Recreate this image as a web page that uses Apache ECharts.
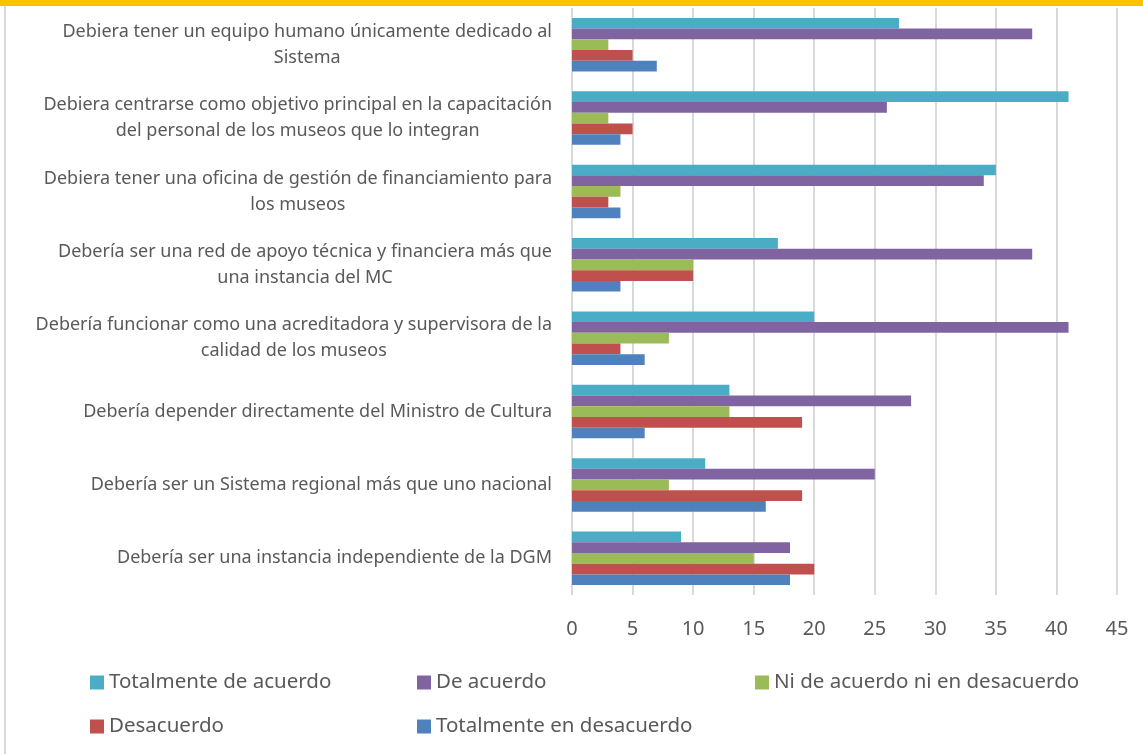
<!DOCTYPE html>
<html>
<head>
<meta charset="utf-8">
<script src="https://cdn.jsdelivr.net/npm/echarts@6/dist/echarts.min.js"></script>
<style>
  html, body { margin: 0; padding: 0; background: #fff; }
  #chart { width: 1143px; height: 754px; }
</style>
</head>
<body>
<div id="chart"></div>
<script>
// categories, top to bottom
var categories = [
  'Debiera tener un equipo humano únicamente dedicado al\nSistema',
  'Debiera centrarse como objetivo principal en la capacitación\ndel personal de los museos que lo integran',
  'Debiera tener una oficina de gestión de financiamiento para\nlos museos',
  'Debería ser una red de apoyo técnica y financiera más que\nuna instancia del MC',
  'Debería funcionar como una acreditadora y supervisora de la\ncalidad de los museos',
  'Debería depender directamente del Ministro de Cultura',
  'Debería ser un Sistema regional más que uno nacional',
  'Debería ser una instancia independiente de la DGM'
];

var seriesNames = ['Totalmente de acuerdo', 'De acuerdo', 'Ni de acuerdo ni en desacuerdo', 'Desacuerdo', 'Totalmente en desacuerdo'];
var seriesColors = ['#4BACC6', '#8064A2', '#9BBB59', '#C0504D', '#4F81BD'];

var totalmenteAcuerdo   = [27, 41, 35, 17, 20, 13, 11, 9];
var deAcuerdo           = [38, 26, 34, 38, 41, 28, 25, 18];
var niAcuerdo           = [3, 3, 4, 10, 8, 13, 8, 15];
var desacuerdo          = [5, 5, 3, 10, 4, 19, 19, 20];
var totalmenteDesacuerdo = [7, 4, 4, 4, 6, 6, 16, 18];

var seriesValues = [totalmenteAcuerdo, deAcuerdo, niAcuerdo, desacuerdo, totalmenteDesacuerdo];

var xTicks = { min: 0, max: 45, interval: 5 };

var chart = echarts.init(document.getElementById('chart'));

var font = 'Noto Sans';
var textColor = '#595959';

// legend placed item by item so the columns line up
var legendPos = [
  { left: 85, top: 667 },
  { left: 412, top: 667 },
  { left: 750, top: 667 },
  { left: 85, top: 711 },
  { left: 412, top: 711 }
];

var legends = seriesNames.map(function (name, i) {
  return {
    data: [name],
    left: legendPos[i].left,
    top: legendPos[i].top,
    icon: 'rect',
    itemWidth: 14,
    itemHeight: 14,
    itemGap: 4,
    textStyle: { fontFamily: font, fontSize: 20.5, color: textColor }
  };
});

var series = seriesNames.map(function (name, i) {
  return {
    name: name,
    type: 'bar',
    data: seriesValues[i],
    barGap: '0%',
    barCategoryGap: '27%',
    itemStyle: { color: seriesColors[i] },
    emphasis: { disabled: true }
  };
});

var option = {
  animation: false,
  backgroundColor: '#fff',
  legend: legends,
  graphic: [
    { type: 'rect', shape: { x: 0, y: 0, width: 1143, height: 6 }, style: { fill: '#FFC000' } },
    { type: 'rect', shape: { x: 4, y: 6, width: 2, height: 748 }, style: { fill: '#D9D9D9' } }
  ],
  grid: { left: 572, right: 26, top: 8, bottom: 159 },
  xAxis: {
    type: 'value',
    min: xTicks.min,
    max: xTicks.max,
    interval: xTicks.interval,
    axisLine: { show: false },
    axisTick: { show: false },
    splitLine: { lineStyle: { color: '#D9D9D9', width: 2 } },
    axisLabel: { fontFamily: font, fontSize: 20, color: textColor, margin: 24 }
  },
  yAxis: {
    type: 'category',
    inverse: true,
    data: categories,
    axisLine: { show: false },
    axisTick: { show: false },
    axisLabel: {
      margin: 20,
      fontFamily: font,
      fontSize: 18,
      color: textColor,
      lineHeight: 26,
      formatter: function (v) {
        return v.split('\n').map(function (l) { return '{c|' + l + '}'; }).join('\n');
      },
      rich: {
        c: { align: 'center', fontFamily: font, fontSize: 18, color: textColor, lineHeight: 26 }
      }
    }
  },
  series: series
};

chart.setOption(option);
</script>
</body>
</html>
